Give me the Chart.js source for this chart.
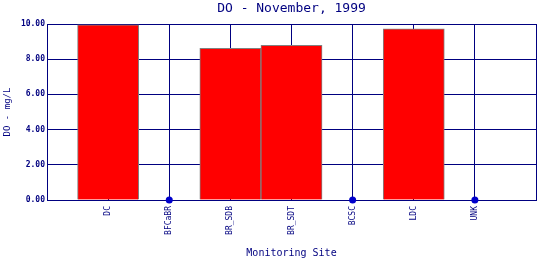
<!DOCTYPE html>
<html>
<head>
<meta charset="utf-8">
<script src="https://cdn.jsdelivr.net/npm/chart.js@4"></script>
<style>
    html, body { margin: 0; padding: 0; background: #ffffff; }
    #wrap { width: 540px; height: 260px; }
</style>
</head>
<body>
<div id="wrap"><canvas id="chart"></canvas></div>
<script>
// Sites (blank slots at each end give the empty half-columns)
const sites = ['', 'DC', 'BFCaBR', 'BR_SDB', 'BR_SDT', 'BCSC', 'LDC', 'UNK', ''];
// DO values, mg/L
const doValues = [null, 9.95, null, 8.62, 8.79, null, 9.73, null, null];
// sites with a zero / no reading, drawn as dots
const zeroValues = [null, null, 0, null, null, 0, null, 0, null];
const yTicks = [0, 2, 4, 6, 8, 10];

const navy = '#000080';
const mono = 'DejaVu Sans Mono';

const ctx = document.getElementById('chart').getContext('2d');

const chart = new Chart(ctx, {
    type: 'bar',
    data: {
        labels: sites,
        datasets: [{
            label: 'DO',
            data: doValues,
            backgroundColor: '#ff0000',
            borderColor: '#808080',
            borderWidth: 1,
            barPercentage: 1,
            categoryPercentage: 1,
            order: 2
        }, {
            type: 'line',
            label: 'zero',
            data: zeroValues,
            showLine: false,
            pointRadius: 3.5,
            pointBackgroundColor: '#0000cc',
            pointBorderColor: '#0000cc',
            pointBorderWidth: 0,
            clip: false,
            order: 1
        }]
    },
    options: {
        responsive: true,
        maintainAspectRatio: false,
        animation: false,
        layout: { padding: { left: 0, right: 3, top: 0, bottom: 0 } },
        plugins: {
            legend: { display: false },
            tooltip: { enabled: false },
            title: {
                display: true,
                fullSize: false,
                text: 'DO - November, 1999',
                color: navy,
                font: { family: mono, size: 13, weight: 'normal' },
                padding: { top: 1, bottom: 7.4 }
            }
        },
        scales: {
            x: {
                offset: false,
                grid: { color: navy, lineWidth: 1, drawTicks: false, offset: false },
                border: { color: navy, width: 1 },
                ticks: {
                    color: navy,
                    font: { family: mono, size: 8 },
                    minRotation: 90,
                    maxRotation: 90,
                    padding: 6,
                    autoSkip: false
                },
                title: {
                    display: true,
                    text: 'Monitoring Site',
                    color: navy,
                    font: { family: mono, size: 10 },
                    padding: { top: 0, bottom: 1 }
                },
                afterFit: function (scale) {
                    scale.height = 60;
                    scale.paddingLeft = 0;
                    scale.paddingRight = 0;
                }
            },
            y: {
                min: 0,
                max: 10,
                afterBuildTicks: function (scale) {
                    scale.ticks = yTicks.map(v => ({ value: v }));
                },
                grid: { color: navy, lineWidth: 1, drawTicks: false },
                border: { color: navy, width: 1 },
                ticks: {
                    color: navy,
                    font: { family: mono, size: 8, weight: 'bold' },
                    padding: 2,
                    callback: function (value) {
                        return value.toFixed(2);
                    }
                },
                title: {
                    display: true,
                    text: 'DO - mg/L',
                    color: navy,
                    font: { family: mono, size: 9 },
                    padding: { top: 2, bottom: 0 }
                },
                afterFit: function (scale) {
                    scale.width = 47;
                }
            }
        }
    }
});
</script>
</body>
</html>
